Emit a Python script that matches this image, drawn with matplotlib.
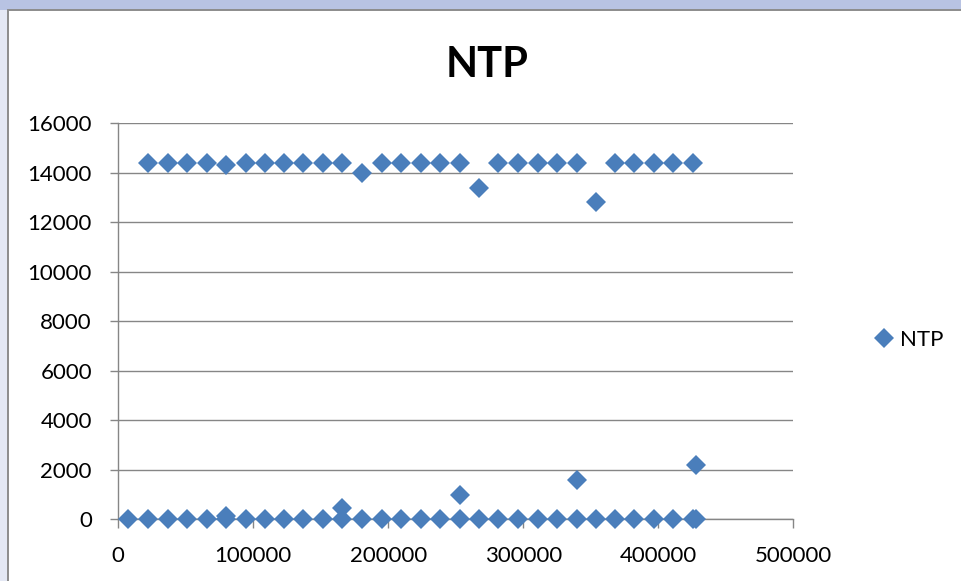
import matplotlib
matplotlib.use("Agg")
import matplotlib.pyplot as plt
from matplotlib.patches import Rectangle

# --- data ---
# upper band of points
x_upper = [22200, 36600, 51100, 65500, 79600, 94400, 108400, 122700, 137000,
           151400, 165900, 180700, 195100, 209400, 224000, 238300, 253100,
           267200, 281500, 296300, 310700, 325200, 339600, 353600, 367700,
           382200, 396800, 411100, 425500]
y_upper = [14400, 14400, 14400, 14400, 14300, 14400, 14400, 14400, 14400,
           14400, 14400, 14000, 14400, 14400, 14400, 14400, 14400,
           13400, 14400, 14400, 14400, 14400, 14400, 12800, 14400,
           14400, 14400, 14400, 14400]

# lower band (near zero)
x_lower = [7400, 22200, 36600, 51100, 65500, 79600, 94400, 108400, 122700,
           137000, 151400, 165900, 180700, 195100, 209400, 224000, 238300,
           253100, 267200, 281500, 296300, 310700, 325200, 339600, 353600,
           367700, 382200, 396800, 411100, 425500, 427700]
y_lower = [0] * len(x_lower)

# small spikes above the lower band
x_spike = [79600, 165900, 253100, 339600, 427700]
y_spike = [120, 450, 1000, 1600, 2200]

x_ticks = [0, 100000, 200000, 300000, 400000, 500000]
y_ticks = list(range(0, 16001, 2000))

series_name = "NTP"
marker_color = "#4a7ebb"
grid_color = "#868686"

plt.rcParams['font.family'] = ['Lato', 'DejaVu Sans']

W, H = 961, 581
fig = plt.figure(figsize=(W / 100, H / 100), dpi=100, facecolor="#b8c3e3")

# pale strip on the left and the white chart area with its grey frame
fig.patches.append(Rectangle((0, 0), 8 / W, 1 - 10 / H, transform=fig.transFigure,
                             facecolor="#e4e8f4", edgecolor="none", zorder=0))
fig.patches.append(Rectangle((8 / W, -0.05), 1.0, 1 - 10 / H + 0.05,
                             transform=fig.transFigure, facecolor="white",
                             edgecolor="#8c8c8c", linewidth=1.4, zorder=0))

ax = fig.add_axes([118.3 / W, 61.7 / H, 675 / W, 396 / H])
ax.set_zorder(5)
ax.set_facecolor("none")

xs = x_upper + x_lower + x_spike
ys = y_upper + y_lower + y_spike
ax.plot(xs, ys, linestyle="none", marker="D", markersize=10.2,
        color=marker_color, markeredgewidth=0, label=series_name,
        clip_on=False, zorder=3)

ax.set_xlim(0, 500000)
ax.set_ylim(0, 16000)
ax.set_xticks(x_ticks)
ax.set_yticks(y_ticks)
ax.set_xticklabels([str(v) for v in x_ticks])
ax.set_yticklabels([str(v) for v in y_ticks])

ax.yaxis.grid(True, color=grid_color, linewidth=1.0)
ax.set_axisbelow(True)
for side in ("top", "right"):
    ax.spines[side].set_visible(False)
for side in ("left", "bottom"):
    ax.spines[side].set_color(grid_color)
    ax.spines[side].set_linewidth(1.0)

ax.tick_params(axis="y", length=6, width=1.0, color=grid_color, pad=13,
               labelsize=16, labelcolor="black")
ax.tick_params(axis="x", length=6.5, width=1.0, color=grid_color, pad=13,
               labelsize=16, labelcolor="black")

# title
fig.text(487 / W, 1 - 65 / H, "NTP", ha="center", va="center",
         fontsize=30, fontweight="bold", color="black", zorder=5)

# legend at the right
leg = fig.legend(loc="center left", bbox_to_anchor=(860 / W, 1 - 340 / H),
                 frameon=False, fontsize=16, handletextpad=0.1,
                 handlelength=1.2, borderpad=0)
leg.set_zorder(5)
leg.legend_handles[0].set_markersize(10.2)

fig.savefig("out.png", dpi=100, facecolor=fig.get_facecolor())
